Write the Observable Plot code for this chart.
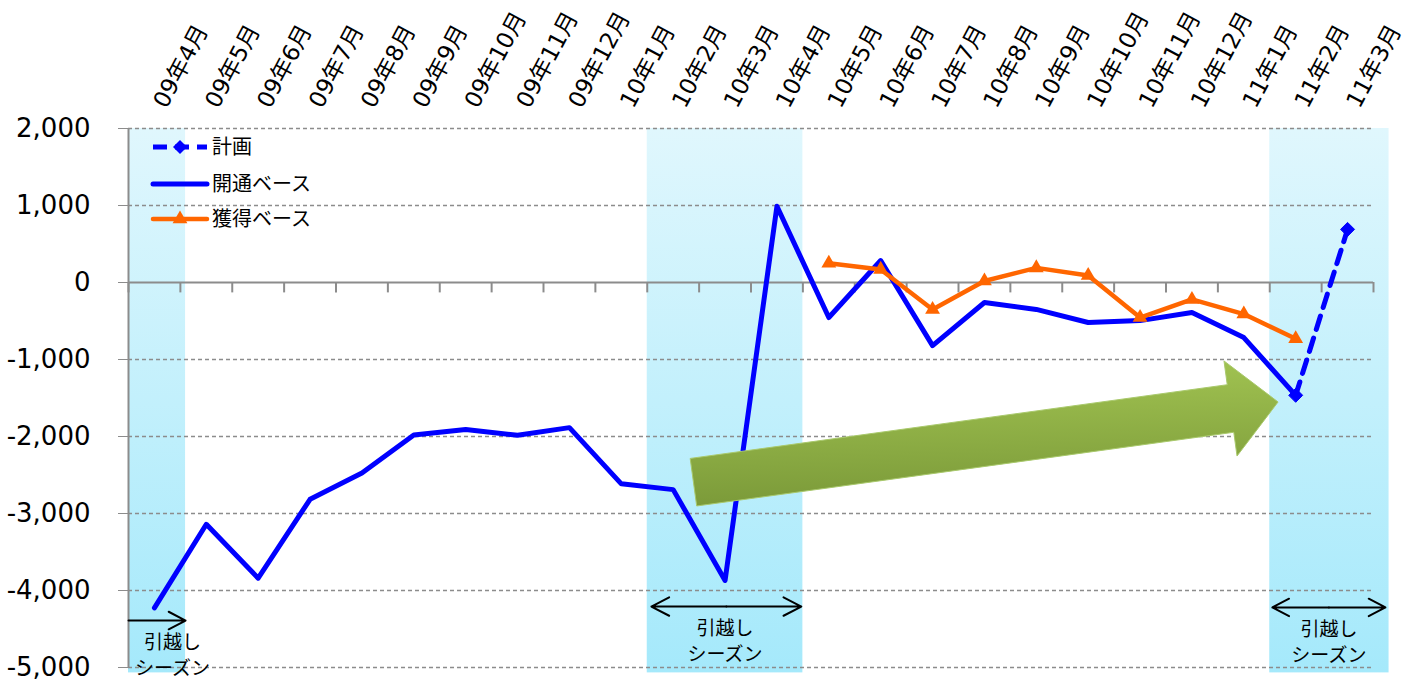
<!DOCTYPE html>
<html>
<head>
<meta charset="utf-8">
<script src="https://cdn.jsdelivr.net/npm/d3@7"></script>
<script src="https://cdn.jsdelivr.net/npm/@observablehq/plot@0.6"></script>
<style>
  html, body { margin: 0; padding: 0; background: #ffffff; }
  #chart { width: 1416px; height: 684px; }
</style>
</head>
<body>
<div id="chart"></div>
<script>
// ---- data ----
const months = ["09年4月","09年5月","09年6月","09年7月","09年8月","09年9月","09年10月","09年11月","09年12月",
  "10年1月","10年2月","10年3月","10年4月","10年5月","10年6月","10年7月","10年8月","10年9月","10年10月","10年11月","10年12月",
  "11年1月","11年2月","11年3月"];
const kaitsuValues = [-4225,-3140,-3840,-2815,-2475,-1980,-1910,-1985,-1885,-2615,-2690,-3870,990,-455,285,-820,-260,-350,-520,-495,-390,-715,-1465,null];
const kakutokuValues = [null,null,null,null,null,null,null,null,null,null,null,null,null,250,170,-350,20,190,90,-455,-220,-410,-730,null];
const keikakuValues = [null,null,null,null,null,null,null,null,null,null,null,null,null,null,null,null,null,null,null,null,null,null,-1465,690];
const yTicks = [2000,1000,0,-1000,-2000,-3000,-4000,-5000];
const seriesNames = ["計画","開通ベース","獲得ベース"];
// moving seasons (in month-index units)
const seasonStart = [-0.5, 9.5, 21.5];
const seasonEnd = [0.6, 12.5, 23.8];
const noteText = "引越し\nシーズン";
const noteX = [0.35, 11.0, 22.64];
const noteY = [-4825, -4636, -4650];
const noteArrowFrom = [-0.5, 9.58, 21.55];
const noteArrowTo = [0.6, 12.47, 23.73];
const noteArrowY = [-4390, -4208, -4220];
const noteArrowDouble = [false, true, true];
// trend arrow (month index, value)
const trendFrom = {x: 10.4, y: -2600};
const trendTo = {x: 21.67, y: -1558};

// ---- build tables ----
const toRows = vals => vals.map((v, i) => ({i, v})).filter(d => d.v !== null);
const kaitsu = months.map((m, i) => ({i, v: kaitsuValues[i]}));
const kakutoku = months.map((m, i) => ({i, v: kakutokuValues[i]}));
const keikaku = toRows(keikakuValues);
const bands = seasonStart.map((s, k) => ({start: s, end: seasonEnd[k]}));
const boundaries = d3.range(0, months.length + 1).map(k => k - 0.5);
const notes = noteX.map((x, k) => ({x, y: noteY[k], text: noteText}));
const arrows = [];
noteArrowFrom.forEach((a, k) => {
  const b = noteArrowTo[k], y = noteArrowY[k];
  if (noteArrowDouble[k]) {
    const c = (a + b) / 2;
    arrows.push({x1: c, x2: a, y}, {x1: c, x2: b, y});
  } else {
    arrows.push({x1: a, x2: b, y});
  }
});

const BLUE = "#0000ff", ORANGE = "#ff6600", GRAY = "#8c8c8c";
const JP = "'Noto Sans CJK JP', 'Noto Sans', sans-serif";
const NUM = "'DejaVu Sans', 'Noto Sans CJK JP', sans-serif";
const fmt = d3.formatLocale({decimal: ".", thousands: ",", grouping: [3], currency: ["", ""], minus: "-"}).format(",");

const plot = Plot.plot({
  width: 1416,
  height: 684,
  marginLeft: 128,
  marginRight: 43,
  marginTop: 128,
  marginBottom: 17,
  x: {domain: [-0.5, 23.5], axis: null},
  y: {domain: [-5000, 2000], axis: null},
  style: {background: "#ffffff", fontFamily: NUM, color: "#000"},
  marks: [
    Plot.rect(bands, {x1: "start", x2: "end", y1: -5070, y2: 2000, fill: "url(#seasonGrad)"}),
    Plot.ruleY(yTicks.filter(d => d !== 0), {x1: -0.5, x2: 23.5, stroke: GRAY, strokeWidth: 1.5, strokeDasharray: "4,3"}),
    Plot.ruleY([0], {x1: -0.5, x2: 23.5, stroke: GRAY, strokeWidth: 2}),
    Plot.ruleX(boundaries, {y1: 0, y2: -135, stroke: GRAY, strokeWidth: 2}),
    Plot.ruleX([-0.5], {y1: -5000, y2: 2000, stroke: GRAY, strokeWidth: 2}),
    Plot.axisY({ticks: yTicks, tickFormat: fmt, tickSize: 10, tickPadding: 28,
      stroke: GRAY, fill: "#000", fontSize: 26, fontFamily: NUM}),
    Plot.text(months, {x: (d, i) => i, frameAnchor: "top", text: d => d, rotate: -62,
      textAnchor: "start", lineAnchor: "bottom", dx: 12, dy: -19, fontSize: 23, fontFamily: NUM, fill: "#000"}),
    Plot.line(kaitsu, {x: "i", y: "v", stroke: BLUE, strokeWidth: 5, strokeLinejoin: "round", strokeLinecap: "round"}),
    Plot.line(keikaku, {x: "i", y: "v", stroke: BLUE, strokeWidth: 5, strokeDasharray: "14,9"}),
    Plot.dot(keikaku, {x: "i", y: "v", symbol: "diamond2", r: 6.3, fill: BLUE, stroke: BLUE, strokeWidth: 1}),
    Plot.line(kakutoku, {x: "i", y: "v", stroke: ORANGE, strokeWidth: 4.5, strokeLinejoin: "round"}),
    Plot.dot(kakutoku.filter(d => d.v !== null), {x: "i", y: "v", symbol: "triangle", r: 5.5, fill: ORANGE}),
    Plot.arrow(arrows, {x1: "x1", x2: "x2", y1: "y", y2: "y", stroke: "#000", strokeWidth: 2, headLength: 15, headAngle: 55}),
    Plot.text(notes, {x: "x", y: "y", text: "text", lineHeight: 1.35, fontSize: 19, fontFamily: JP, fill: "#000"})
  ]
});

document.getElementById("chart").appendChild(plot);

// ---- gradients, trend arrow, legend ----
const svg = d3.select(plot);
const defs = svg.insert("defs", ":first-child");
const g1 = defs.append("linearGradient").attr("id", "seasonGrad").attr("x1", 0).attr("y1", 0).attr("x2", 0).attr("y2", 1);
g1.append("stop").attr("offset", "0%").attr("stop-color", "#e0f7fd");
g1.append("stop").attr("offset", "100%").attr("stop-color", "#a5e9fb");
const g2 = defs.append("linearGradient").attr("id", "trendGrad").attr("x1", 0).attr("y1", 0).attr("x2", 0.1).attr("y2", 1);
g2.append("stop").attr("offset", "0%").attr("stop-color", "#a4c653");
g2.append("stop").attr("offset", "100%").attr("stop-color", "#7b9a39");

const sx = plot.scale("x"), sy = plot.scale("y");
const X = v => sx.apply(v), Y = v => sy.apply(v);
{
  const p0 = [X(trendFrom.x), Y(trendFrom.y)], p1 = [X(trendTo.x), Y(trendTo.y)];
  const dx = p1[0] - p0[0], dy = p1[1] - p0[1], len = Math.hypot(dx, dy);
  const u = [dx / len, dy / len], n = [u[1], -u[0]];
  const s = 24, h = 48, L = 48;
  const base = [p1[0] - u[0] * L, p1[1] - u[1] * L];
  const pt = (p, k) => [p[0] + n[0] * k, p[1] + n[1] * k];
  const poly = [pt(p0, s), pt(base, s), pt(base, h), p1, pt(base, -h), pt(base, -s), pt(p0, -s)];
  svg.append("polygon")
    .attr("points", poly.map(p => p.join(",")).join(" "))
    .attr("fill", "url(#trendGrad)")
    .attr("stroke", "#a9c96c")
    .attr("stroke-width", 1);
}

// legend
const lg = svg.append("g").attr("font-family", JP).attr("font-size", 20).attr("text-anchor", "start");
const rowsY = [147, 184, 219];
const lx0 = 153, lx1 = 207, lxc = 180;
lg.append("line").attr("x1", lx0).attr("x2", lx1).attr("y1", rowsY[0]).attr("y2", rowsY[0])
  .attr("stroke", BLUE).attr("stroke-width", 5).attr("stroke-dasharray", "14,8");
lg.append("path").attr("d", d3.symbol(d3.symbolDiamond2, Math.PI * 6.3 * 6.3)())
  .attr("transform", `translate(${lxc},${rowsY[0]})`).attr("fill", BLUE);
lg.append("line").attr("x1", lx0).attr("x2", lx1).attr("y1", rowsY[1]).attr("y2", rowsY[1])
  .attr("stroke", BLUE).attr("stroke-width", 5).attr("stroke-linecap", "round");
lg.append("line").attr("x1", lx0).attr("x2", lx1).attr("y1", rowsY[2]).attr("y2", rowsY[2])
  .attr("stroke", ORANGE).attr("stroke-width", 4.5).attr("stroke-linecap", "round");
lg.append("path").attr("d", d3.symbol(d3.symbolTriangle, Math.PI * 5.5 * 5.5)())
  .attr("transform", `translate(${lxc},${rowsY[2]})`).attr("fill", ORANGE);
seriesNames.forEach((name, k) => {
  lg.append("text").attr("x", 212).attr("y", rowsY[k]).attr("dy", "0.35em").attr("fill", "#000").text(name);
});
</script>
</body>
</html>
